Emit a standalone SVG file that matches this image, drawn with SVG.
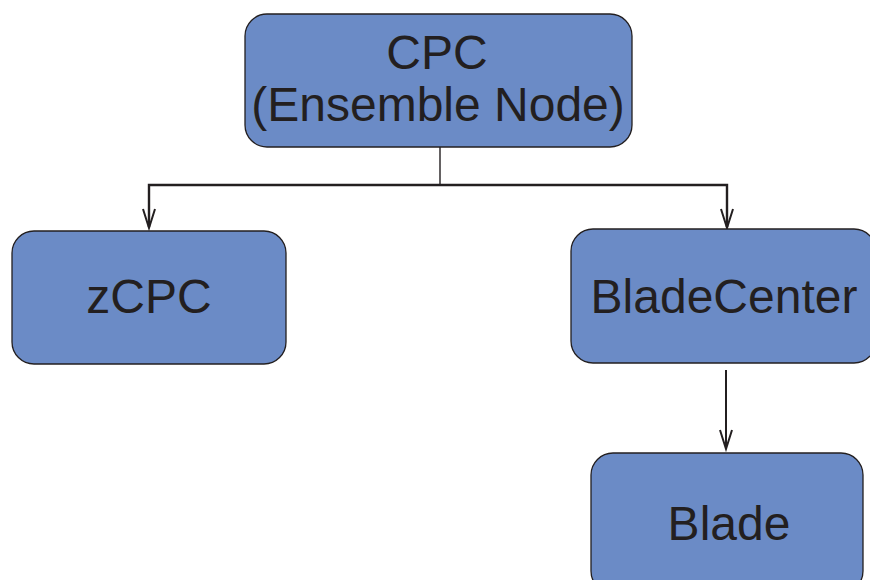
<svg xmlns="http://www.w3.org/2000/svg" width="870" height="580" viewBox="0 0 870 580">
<style>
.box{fill:#6b8bc6;stroke:#231f20;stroke-width:1.3}
.lbl{font-family:"Liberation Sans",Arial,sans-serif;font-size:48px;fill:#231f20;text-anchor:middle}
.wire{fill:none;stroke:#231f20;stroke-width:2.4}
.head{fill:none;stroke:#231f20;stroke-width:2;stroke-linejoin:miter}
</style>
<rect width="870" height="580" fill="#ffffff"/>
<g id="connectors">
<path class="wire" d="M440,147 V185" style="stroke-width:1.4"/>
<path class="wire" d="M149,227 V185 H727 V227"/>
<path class="head" d="M143,209 L149,228 L155,209"/>
<path class="head" d="M721,209 L727,228 L733,209"/>
<path class="wire" d="M726,370 V448" style="stroke-width:2"/>
<path class="head" d="M720,430 L726,449 L732,430"/>
</g>
<g id="node-cpc">
<rect class="box" x="245" y="14" width="387" height="133" rx="22"/>
<text class="lbl" x="437" y="69">CPC</text>
<text class="lbl" x="438" y="121">(Ensemble Node)</text>
</g>
<g id="node-zcpc">
<rect class="box" x="12" y="231" width="274" height="133" rx="22"/>
<text class="lbl" x="149" y="313">zCPC</text>
</g>
<g id="node-bladecenter">
<rect class="box" x="571" y="229" width="305" height="134" rx="22"/>
<text class="lbl" x="724" y="313">BladeCenter</text>
</g>
<g id="node-blade">
<rect class="box" x="591" y="453" width="272" height="140" rx="22"/>
<text class="lbl" x="729" y="540">Blade</text>
</g>
</svg>
